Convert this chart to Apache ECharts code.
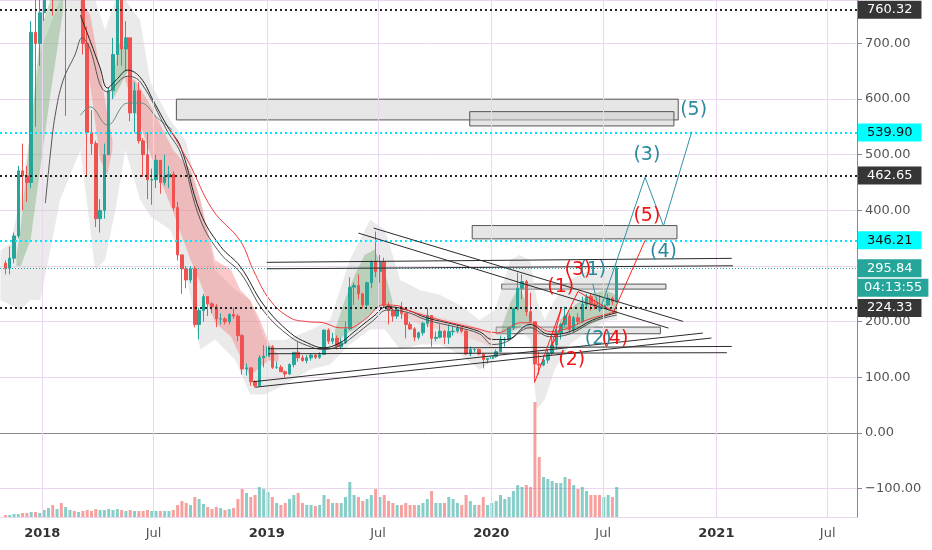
<!DOCTYPE html>
<html><head><meta charset="utf-8">
<script src="https://cdn.jsdelivr.net/npm/echarts@6/dist/echarts.min.js"></script>
<style>html,body{margin:0;padding:0;background:#fff}#c{width:932px;height:550px}</style>
</head><body><div id="c"></div>
<script>
// ---------- DATA ----------
const firstWeek = '2017-10-30';           // Monday of first weekly candle
// weekly candles [open, high, low, close]
const candlesOHLC = [
[305,310,285,296],[296,335,285,314],[314,360,305,354],[354,480,350,471],[471,520,400,462],[462,480,415,450],[450,740,440,720],[720,860,550,700],[700,780,660,755],
[755,1200,740,1150],[1150,1430,1000,1350],[1350,1360,750,1050],[1050,1250,950,1240],[1240,1250,780,830],[830,890,570,860],[860,970,810,940],[940,940,780,845],[845,880,840,865],
[865,870,680,700],[700,730,460,540],[540,580,500,520],[520,525,370,385],[385,420,360,400],[400,520,385,500],[500,620,500,615],[615,710,600,680],[680,830,660,790],
[790,800,660,690],[690,740,650,710],[710,710,560,575],[575,630,540,615],[615,630,520,525],[525,530,460,500],[500,540,420,455],[455,475,410,455],
[455,500,440,490],[490,490,430,450],[450,500,445,460],[460,480,440,465],[465,470,400,405],
[405,415,310,320],[320,320,250,295],[295,300,260,275],[275,300,270,295],[295,300,190,195],[195,225,168,220],[220,250,200,245],[245,245,210,232],
[232,235,215,227],[227,232,190,205],[205,215,195,205],[205,208,195,200],[200,215,195,213],[213,225,205,210],
[210,214,165,175],[175,178,105,115],[115,125,103,117],[117,118,85,92],[92,95,82,85],[85,140,84,135],[135,158,118,138],
[138,160,130,155],[155,158,115,118],[118,128,115,118],[118,122,110,110],[110,112,100,106],[106,125,104,123],[123,145,118,145],[145,165,128,135],[135,140,128,130],[130,140,125,135],[135,142,130,140],[140,142,133,136],[136,145,133,141],
[141,185,140,185],[185,188,160,165],[165,180,160,170],[170,175,150,155],[155,170,152,162],[162,200,160,187],[187,280,185,262],[262,270,230,265],[265,285,240,250],
[250,252,225,230],[230,272,225,270],[270,310,260,308],[308,362,280,290],[290,320,270,307],[307,315,225,230],[230,235,195,220],[220,225,200,210],[210,225,205,222],
[222,235,205,215],[215,216,170,195],[195,200,185,187],[187,190,165,172],[172,182,168,180],[180,200,175,197],[197,225,190,211],[211,212,155,170],[170,182,165,172],
[172,195,170,183],[183,185,160,172],[172,195,160,182],[182,192,175,183],[183,195,180,189],[189,190,180,183],[183,185,140,142],[142,155,138,150],[150,152,145,150],[150,152,140,142],[142,143,116,132],[132,135,125,134],
[134,145,127,137],[137,150,135,146],[146,175,145,167],[167,172,155,168],[168,190,165,189],[189,225,185,223],[223,288,220,260],[260,285,240,272],[272,275,210,218],
[218,252,198,200],[200,201,90,124],[124,145,105,122],[122,140,120,131],[131,150,125,143],
[143,175,140,158],[158,187,150,180],[180,198,168,195],[195,227,192,210],[210,215,180,186],[186,210,180,207],[207,215,195,200],[200,245,198,231],
[231,250,225,245],[245,250,220,232],[232,240,222,228],[228,248,220,226],[226,233,220,230],[230,250,228,242],[242,245,230,236],[236,300,234,295.84]
];
const volume = [
2,2,3,3,4,4,5,5,4,
7,9,12,8,14,10,7,6,5,
6,7,6,8,7,7,8,7,8,
7,6,7,6,6,6,7,6,
6,6,6,6,7,
12,16,14,12,20,18,13,10,
8,10,9,7,8,9,
18,28,24,20,22,30,28,
25,20,14,12,14,18,22,24,14,12,12,11,12,
22,18,14,14,14,20,35,22,20,
16,18,22,28,20,22,16,14,12,
12,14,12,12,12,14,18,26,14,
14,14,20,18,14,12,22,16,12,12,20,12,
14,16,22,18,20,26,32,30,32,
30,115,60,40,38,
36,34,34,40,38,32,28,30,
26,22,22,22,20,22,20,30
];
const maBlackFast = [['2018-03-04',751],['2018-03-20',704],['2018-04-05',656],['2018-04-17',620],['2018-05-01',634],['2018-05-20',652],['2018-06-10',638],['2018-07-01',596],['2018-07-24',550],['2018-08-14',514],['2018-09-15',396],['2018-10-18',335],['2018-11-19',299],['2018-12-27',230],['2019-02-08',180],['2019-03-08',162],['2019-04-03',153],['2019-04-30',162],['2019-05-21',180],['2019-06-23',209],['2019-07-16',227],['2019-08-17',221],['2019-09-18',207],['2019-11-06',194],['2019-12-13',182],['2020-01-03',168],['2020-01-26',168],['2020-03-04',195],['2020-04-05',177],['2020-05-08',182],['2020-06-14',203],['2020-07-23',216]];
const maBlackSlow = [['2018-01-06',413],['2018-01-14',500],['2018-01-22',571],['2018-02-04',634],['2018-02-23',679],['2018-03-07',710],['2018-03-17',697],['2018-04-17',613],['2018-05-20',641],['2018-06-10',630],['2018-07-24',541],['2018-08-14',503],['2018-09-15',383],['2018-10-18',322],['2018-11-19',288],['2018-12-27',219],['2019-02-08',173],['2019-03-08',157],['2019-04-03',150],['2019-04-30',157],['2019-05-21',173],['2019-06-23',202],['2019-07-16',221],['2019-08-17',217],['2019-09-18',203],['2019-11-06',190],['2019-12-13',178],['2020-01-03',159],['2020-01-26',164],['2020-03-04',189],['2020-04-05',173],['2020-05-08',178],['2020-06-14',200],['2020-07-23',212]];
const maGreen = [['2018-03-04',571],['2018-03-20',586],['2018-04-17',553],['2018-05-20',593],['2018-06-10',593],['2018-07-07',566],['2018-07-31',545]];
const maRed = [['2018-07-28',545],['2018-08-29',482],['2018-10-05',401],['2018-11-19',345],['2018-12-10',293],['2019-01-06',239],['2019-02-08',207],['2019-03-08',200],['2019-04-03',198],['2019-04-30',189],['2019-05-17',189],['2019-06-02',198],['2019-06-13',207],['2019-07-09',230],['2019-08-01',229],['2019-08-17',221],['2019-10-10',203],['2019-12-03',189],['2020-01-11',180],['2020-02-18',198],['2020-03-04',198],['2020-04-06',182],['2020-06-15',207],['2020-07-23',218]];
// ribbons [date, upper, lower]
const bandRedA = [['2018-03-04',778,742],['2018-03-20',751,625],['2018-04-05',652,491],['2018-04-17',571,464],['2018-04-25',527,509]];
const bandRedB = [['2018-05-16',643,634],['2018-06-01',634,580],['2018-06-26',589,500],['2018-08-02',508,396],['2018-08-30',473,311],['2018-09-15',419,270],['2018-10-09',311,198],['2018-11-04',293,173],['2018-11-19',257,137],['2018-12-05',239,101],['2018-12-21',203,119],['2019-01-06',158,131],['2019-01-20',140,128]];
const bandRedC = [['2019-08-06',230,212],['2019-09-07',218,195],['2019-10-10',207,186],['2019-11-11',200,177],['2019-12-13',189,164],['2020-01-03',177,153]];
const bandGreenA = [['2017-11-20',318,300],['2017-11-27',370,300],['2017-12-13',548,347],['2017-12-29',724,478],['2018-01-14',778,607],['2018-02-04',778,760]];
const bandGreenB = [['2018-04-26',640,600],['2018-05-06',700,620],['2018-05-20',690,650]];
const bandGreenC = [['2019-04-22',185,159],['2019-05-08',239,177],['2019-05-24',284,186],['2019-06-09',320,204],['2019-06-25',329,221],['2019-07-11',293,230],['2019-07-24',239,225]];
const bandGreenD = [['2020-01-18',190,178],['2020-02-01',235,180],['2020-02-15',262,190],['2020-02-25',240,195],['2020-03-05',200,190]];
const bandGreenE = [['2020-04-22',203,185],['2020-05-16',230,182],['2020-06-09',248,194],['2020-07-04',257,207],['2020-07-23',248,218]];
const bandGray = [['2017-10-25',328,239],['2017-11-10',340,230],['2017-11-26',419,221],['2017-12-13',544,239],['2017-12-29',688,239],['2018-01-30',778,419],['2018-03-04',778,509],['2018-03-28',778,293],['2018-04-13',724,311],['2018-04-30',778,400],['2018-05-16',778,509],['2018-06-09',742,419],['2018-06-26',629,389],['2018-07-28',562,365],['2018-08-22',526,293],['2018-09-15',418,150],['2018-10-09',293,168],['2018-11-11',257,131],['2018-12-05',239,69],['2018-12-29',167,69],['2019-01-31',167,87],['2019-03-13',185,114],['2019-04-14',203,123],['2019-05-16',311,159],['2019-06-18',383,186],['2019-07-12',365,186],['2019-08-06',275,150],['2019-09-07',257,159],['2019-10-10',248,159],['2019-11-11',230,141],['2019-12-13',203,114],['2020-01-07',221,132],['2020-02-01',311,186],['2020-02-16',320,186],['2020-03-04',311,168],['2020-03-15',239,42],['2020-03-28',203,60],['2020-04-13',239,114],['2020-05-08',275,159],['2020-06-09',293,186],['2020-07-12',293,203],['2020-07-24',310,203]];
// zones [from, to, low, high]
const zones = [['2018-08-07','2020-10-31',562.5,599.8],['2019-11-27','2020-10-24',551.7,577.4],['2019-12-01','2020-10-29',348.8,372.7],['2020-01-18','2020-10-11',258.5,267.5],['2020-01-09','2020-10-02',178.3,190.3]];
const trendLines = [
 [['2019-06-24',368.1],['2020-11-08',200.4]],
 [['2019-05-30',359.1],['2020-10-15',188.5]],
 [['2019-01-01',306.6],['2021-01-26',313.8]],
 [['2019-01-01',295.0],['2021-01-28',300.4]],
 [['2018-12-10',92.1],['2020-12-10',179.5]],
 [['2018-12-13',82.2],['2020-12-24',170.6]],
 [['2019-01-03',151.3],['2021-01-26',155.5]],
 [['2019-01-03',142.4],['2021-01-18',144.2]]
];
const waveRed = [['2020-03-12',92.2],['2020-04-24',224.4],['2020-04-08',155.5],['2020-05-21',254.2],['2020-07-18',217.8],['2020-09-07',345.8]];
const waveTeal = [['2020-06-14',268],['2020-06-25',218],['2020-09-07',459.6],['2020-10-07',372.2],['2020-11-22',541.5]];
const waveRedLabels = [['2020-04-23',262.7,'(1)'],['2020-05-11',131.6,'(2)'],['2020-05-21',293.2,'(3)'],['2020-07-20',168.8,'(4)'],['2020-09-10',388.9,'(5)']];
const waveTealLabels = [['2020-06-14',293.2,'(1)'],['2020-06-23',168.8,'(2)'],['2020-09-10',499.6,'(3)'],['2020-10-07',324.2,'(4)'],['2020-11-25',580.4,'(5)']];
const priceLevels = [760.32, 539.90, 462.65, 346.21, 295.84, 224.33];
const countdownText = '04:13:55';
const countdownLevel = 261;
const halfYearTicks = ['2018-01-01','2018-07-01','2019-01-01','2019-07-01','2020-01-01','2020-07-01','2021-01-01','2021-07-01'];
const monthNames = ['Jan','Feb','Mar','Apr','May','Jun','Jul','Aug','Sep','Oct','Nov','Dec'];

// ---------- CHART ----------
const Y_MIN = -151, Y_MAX = 778;
const DAY = 864e5;
const T = s => Date.parse(s);
const UP = '#26a69a', DOWN = '#ef5350';
const FONT = 'DejaVu Sans';
const GRID = '#ead6ef';
const weekTimes = candlesOHLC.map((c, i) => T(firstWeek) + i * 7 * DAY + 3 * DAY);
const tickTimes = halfYearTicks.map(T);

const levelStyle = [
  {line:'#222', bg:'#363636', fg:'#fff', w:2, dash:[2,3]},
  {line:'#00e5ff', bg:'#00ffff', fg:'#111', w:2, dash:[2,3]},
  {line:'#222', bg:'#363636', fg:'#fff', w:2, dash:[2,3]},
  {line:'#00e5ff', bg:'#00ffff', fg:'#111', w:2, dash:[2,3]},
  {line:'#26a69a', bg:'#26a69a', fg:'#fff', w:1, dash:[1,2]},
  {line:'#222', bg:'#363636', fg:'#fff', w:2, dash:[2,3]}
];
const markLineData = priceLevels.map((v, i) => ({
  yAxis: v,
  lineStyle: {color: levelStyle[i].line, width: levelStyle[i].w, type: levelStyle[i].dash},
  label: {show: true, position: 'end', distance: 1, formatter: v.toFixed(2),
    backgroundColor: levelStyle[i].bg, color: levelStyle[i].fg, padding: [3, 9, 2, 9],
    fontSize: 13, fontFamily: FONT}
}));
markLineData.push({
  yAxis: countdownLevel, lineStyle: {color: 'rgba(0,0,0,0)', width: 0},
  label: {show: true, position: 'end', distance: 1, formatter: countdownText,
    backgroundColor: '#26a69a', color: '#fff', padding: [3, 6, 2, 6], fontSize: 13, fontFamily: FONT}
});

function band(points, color, z) {
  return {
    type: 'custom', z: z, silent: true, clip: true,
    data: [[T(points[0][0]), points[0][1]]],
    encode: {x: 0, y: 1},
    renderItem: function (params, api) {
      const top = points.map(p => api.coord([T(p[0]), Math.min(p[1], Y_MAX)]));
      const bot = points.slice().reverse().map(p => api.coord([T(p[0]), Math.min(p[2], Y_MAX)]));
      return {type: 'polygon', shape: {points: top.concat(bot)}, style: {fill: color}};
    }
  };
}
function maLine(points, color, z) {
  return {type: 'line', z: z, silent: true, showSymbol: false, smooth: 0.4,
    data: points.map(p => [T(p[0]), p[1]]), lineStyle: {color: color, width: 1}};
}

const series = [];
// vertical grid lines at the half-year ticks
series.push({type: 'line', z: 0, silent: true, showSymbol: false, data: [[tickTimes[0], Y_MIN - 100]],
  markLine: {silent: true, symbol: ['none', 'none'], label: {show: false},
    lineStyle: {color: GRID, type: 'solid', width: 1},
    data: tickTimes.map(t => ({xAxis: t}))}});
series.push(band(bandGray, 'rgba(205,205,205,0.42)', 1));
[bandRedA, bandRedB].forEach(b => series.push(band(b, 'rgba(242,110,110,0.38)', 1)));
series.push(band(bandRedC, 'rgba(242,110,110,0.16)', 1));
[bandGreenA, bandGreenB, bandGreenC, bandGreenD, bandGreenE].forEach(b => series.push(band(b, 'rgba(80,150,80,0.30)', 1)));

series.push({
  type: 'bar', yAxisIndex: 1, z: 2, silent: true, barWidth: 3,
  data: volume.map((v, i) => ({value: [weekTimes[i], v],
    itemStyle: {color: candlesOHLC[i][3] >= candlesOHLC[i][0] ? 'rgba(38,166,154,0.55)' : 'rgba(239,83,80,0.55)'}}))
});

series.push({
  type: 'candlestick', z: 3, silent: true, barWidth: 3, clip: true,
  encode: {x: 0, y: [1, 2, 3, 4]},
  data: candlesOHLC.map((c, i) => [weekTimes[i], c[0], c[3], c[2], c[1]]),
  itemStyle: {color: UP, color0: DOWN, borderColor: UP, borderColor0: DOWN, borderWidth: 1},
  markArea: {silent: true,
    itemStyle: {color: 'rgba(205,205,205,0.5)', borderColor: '#555', borderWidth: 1},
    data: zones.map(zn => [{xAxis: T(zn[0]), yAxis: zn[2]}, {xAxis: T(zn[1]), yAxis: zn[3]}])},
  markLine: {silent: true, symbol: ['none', 'none'], animation: false, data: markLineData}
});

series.push(maLine(maGreen, '#5f8f80', 4));
series.push(maLine(maBlackSlow, '#555', 4));
series.push(maLine(maBlackFast, '#222', 4));
series.push(maLine(maRed, '#f23b3b', 4));

trendLines.forEach(l => series.push({type: 'line', z: 5, silent: true, showSymbol: false,
  data: l.map(p => [T(p[0]), p[1]]), lineStyle: {color: '#2b2b2b', width: 1}}));

series.push({type: 'line', z: 6, silent: true, showSymbol: false, data: waveTeal.map(p => [T(p[0]), p[1]]), lineStyle: {color: '#2f93a5', width: 1}});
series.push({type: 'line', z: 6, silent: true, showSymbol: false, data: waveRed.map(p => [T(p[0]), p[1]]), lineStyle: {color: '#ff1f1f', width: 1}});

function waveLabels(arr, color) {
  return {type: 'scatter', z: 7, silent: true, symbolSize: 1, itemStyle: {color: 'rgba(0,0,0,0)'},
    data: arr.map(p => ({value: [T(p[0]), p[1]], name: p[2]})),
    label: {show: true, position: 'inside', formatter: '{b}', color: color, fontSize: 19, fontFamily: FONT,
      textBorderWidth: 0, opacity: 1}};
}
series.push(waveLabels(waveTealLabels, '#2a8a9c'));
series.push(waveLabels(waveRedLabels, '#f51414'));

const chart = echarts.init(document.getElementById('c'), null, {renderer: 'canvas'});
chart.setOption({
  animation: false,
  backgroundColor: '#fff',
  grid: {left: 0, right: 75, top: 0, bottom: 33},
  xAxis: {
    type: 'value',
    min: Date.UTC(2017, 9, 24, 6), max: Date.UTC(2021, 7, 17, 16),
    axisLine: {lineStyle: {color: '#888'}},
    axisTick: {show: true, length: 5, lineStyle: {color: '#888'}, customValues: tickTimes},
    splitLine: {show: false},
    axisLabel: {margin: 10, fontSize: 13, fontFamily: FONT, color: '#555', customValues: tickTimes,
      formatter: function (val) {
        const d = new Date(val);
        const m = d.getUTCMonth();
        if (m === 0) return '{y|' + d.getUTCFullYear() + '}';
        if (m === 6) return '{m|' + monthNames[m] + '}';
        return '';
      },
      rich: {y: {fontWeight: 'bold', color: '#333', fontSize: 13, fontFamily: FONT}, m: {color: '#555', fontSize: 13, fontFamily: FONT}}}
  },
  yAxis: [{
    type: 'value', position: 'right', min: Y_MIN, max: Y_MAX, splitNumber: 9,
    axisLine: {show: true, lineStyle: {color: '#888'}},
    axisTick: {show: true, length: 5, lineStyle: {color: '#888'}},
    splitLine: {show: true, lineStyle: {color: GRID, width: 1}},
    axisLabel: {margin: 8, fontSize: 13, fontFamily: FONT, color: '#555',
      showMinLabel: false, showMaxLabel: false,
      formatter: v => (Math.abs(v % 100) < 1e-6) ? (v < 0 ? '\u2212' : '') + Math.abs(v).toFixed(2) : ''}
  }, {
    type: 'value', min: 0, max: 517, show: false, splitLine: {show: false}
  }],
  series: series
});
</script></body></html>
